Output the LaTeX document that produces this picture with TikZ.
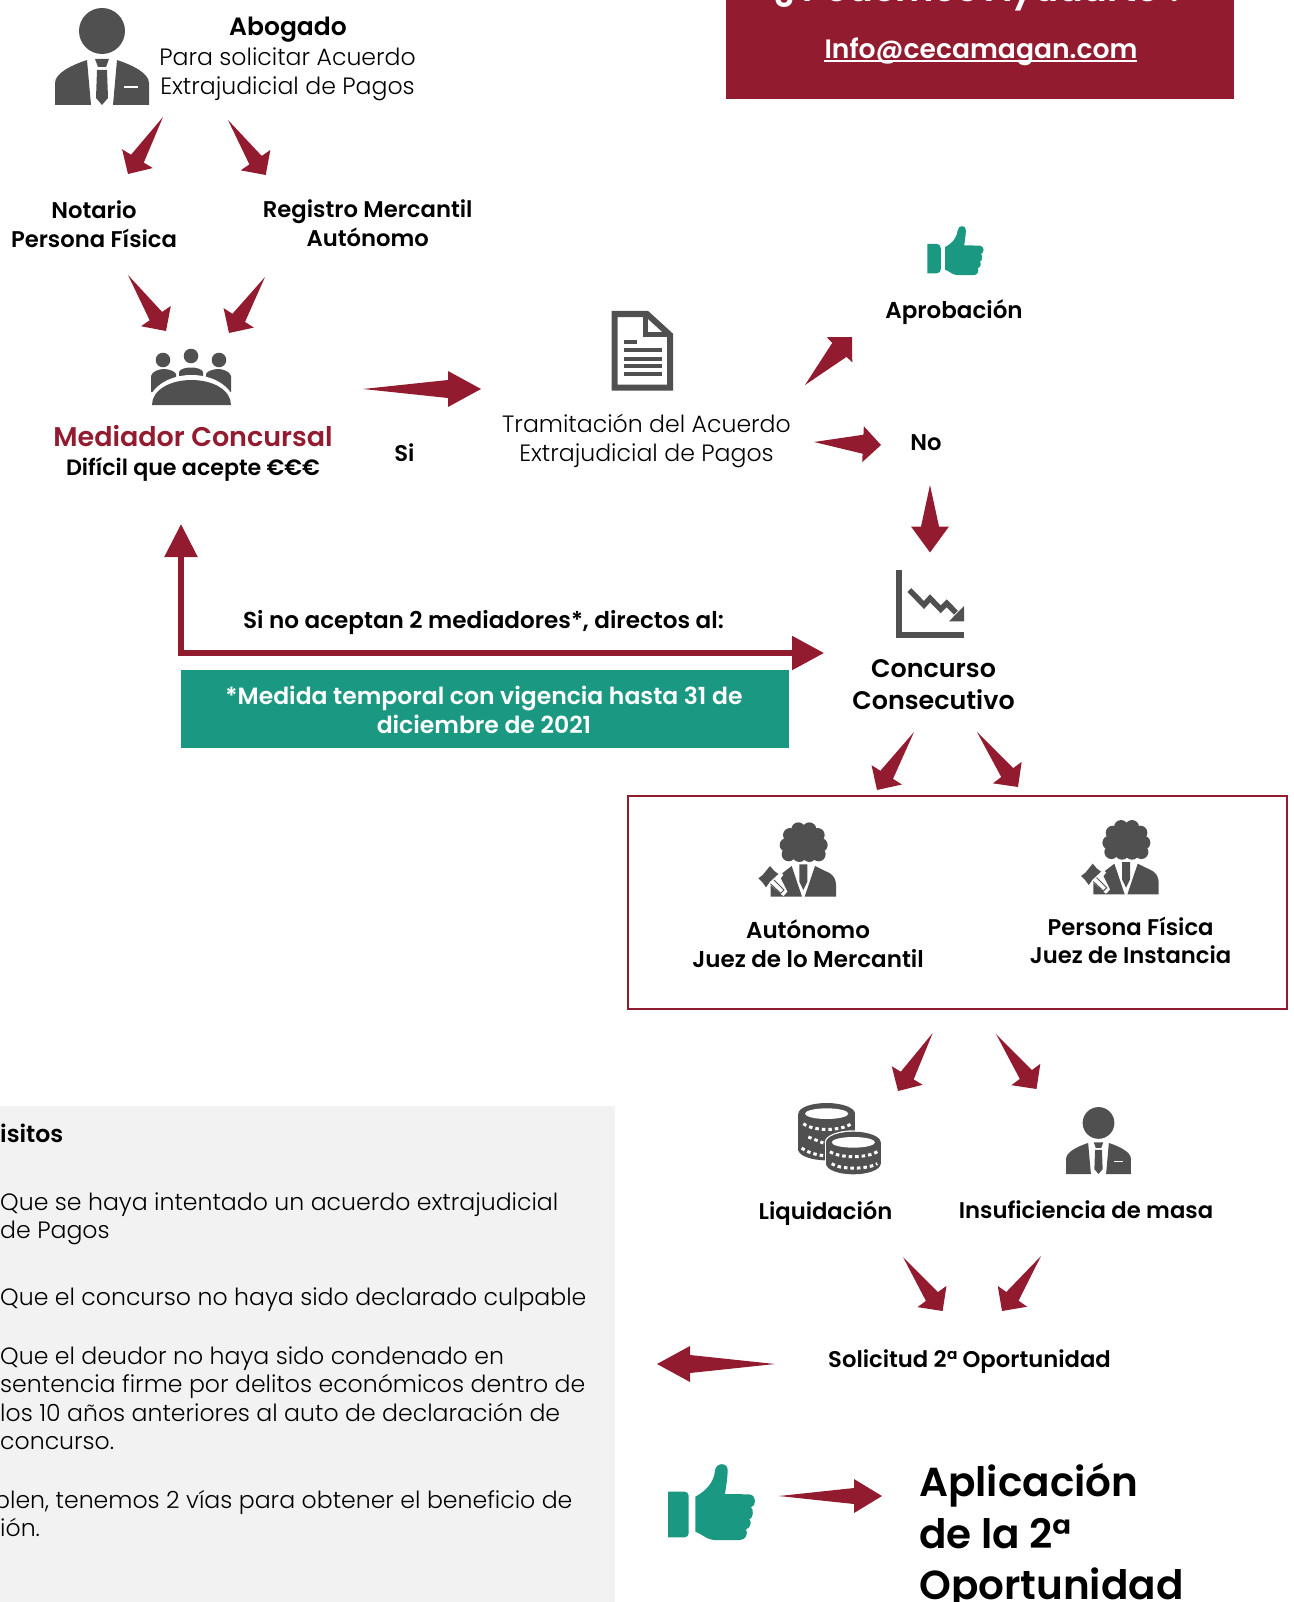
\documentclass[tikz,border=0pt]{standalone}
\usepackage{fontspec}
\setmainfont{Poppins Light}[BoldFont={Poppins SemiBold}]
\usetikzlibrary{calc, arrows.meta}
\definecolor{crimson}{RGB}{147,27,47}
\definecolor{teal}{RGB}{27,152,129}
\definecolor{icongrey}{RGB}{80,80,80}
\definecolor{panelgrey}{RGB}{242,242,242}
\tikzset{
	bodytxt/.style={align=center, inner sep=0pt, text=black, font=\fontsize{23.6}{28.5}\selectfont},
	boldtxt/.style={align=center, inner sep=0pt, text=black, font=\fontsize{22.7}{28.5}\bfseries\selectfont},
	paneltxt/.style={anchor=base west, inner sep=0pt, text=black, font=\fontsize{23.6}{28.5}\selectfont},
	whitetxt/.style={align=center, inner sep=0pt, text=white, font=\fontsize{23.5}{28.5}\bfseries\selectfont},
}
\newcommand\blockarrow[5]{\path (#2) coordinate (tip) ($(#2)!#3!(#1)$) coordinate (base);
\fill[crimson] (#1) -- ($(base)!#5!90:(tip)$) -- ($(base)!#4!90:(tip)$) -- (tip) -- ($(base)!#4!-90:(tip)$) -- ($(base)!#5!-90:(tip)$) -- cycle;}
\newcommand\lawyericon[3]{\begin{scope}[shift={(#1,#2)},scale=#3]
\fill[icongrey] (0,-74) circle (23);
\fill[icongrey] (-47,0) -- (-47,-22) .. controls (-47,-32) and (-30,-40) .. (-15,-45) -- (-11,0) -- cycle;
\fill[icongrey] (47,0) -- (47,-22) .. controls (47,-32) and (30,-40) .. (15,-45) -- (11,0) -- cycle;
\fill[icongrey] (-7,-46) -- (7,-46) -- (4,-38) -- (-4,-38) -- cycle;
\fill[icongrey] (-5,-35) -- (5,-35) -- (6,-7) -- (0,0) -- (-6,-7) -- cycle;
\fill[white] (22,-19) rectangle (36,-17);
\end{scope}}
\newcommand\thumbicon[3]{\begin{scope}[shift={(#1,#2)},scale=#3]
\fill[teal] (54,125) [rounded corners=4] -- (116,125) -- (116,262) [sharp corners] -- (54,262) -- cycle;
\fill[teal] (136,140) .. controls (170,122) and (192,95) .. (195,62) .. controls (197,36) and (235,36) .. (233,62)
 .. controls (232,90) and (228,110) .. (225,132) -- (298,133) .. controls (320,135) and (320,168) .. (303,172)
 .. controls (312,178) and (310,205) .. (298,208) .. controls (306,214) and (302,235) .. (288,238)
 .. controls (295,250) and (288,270) .. (270,270) -- (190,270) .. controls (170,268) and (155,252) .. (136,245) -- cycle;
\end{scope}}
\newcommand\judgeicon[2]{\begin{scope}[shift={(#1,#2)},scale=0.3333]
\fill[icongrey] (160,95) ellipse [x radius=55, y radius=50];
\foreach \wx/\wy in {145/58,178/58,120/75,203/75,110/105,212/105,116/133,206/133,148/135,178/135}
	\fill[icongrey] (\wx,\wy) circle (21);
\fill[icongrey] (62,260) -- (62,225) -- (90,195) -- (125,168) -- (156,260) -- cycle;
\fill[icongrey] (195,168) -- (240,190) .. controls (252,198) and (258,210) .. (258,225) -- (258,260) -- (164,260) -- cycle;
\fill[icongrey] (148,163) -- (172,163) -- (172,215) -- (160,240) -- (148,215) -- cycle;
\fill[white] (30,190) -- (70,160) -- (100,195) -- (92,205) -- (112,245) -- (100,258) -- (62,225) -- (55,240) -- cycle;
\draw[white, line width=5pt, line cap=round] (60,210) -- (100,248);
\draw[icongrey, line width=1pt, line cap=round] (62,222) -- (92,250) -- (102,240) -- (72,210);
\fill[icongrey] (25,205) -- (38,195) -- (60,168) -- (72,182) -- (85,192) -- (60,215) -- (48,232) -- (38,218) -- cycle;
\end{scope}}
\begin{document}
\begin{tikzpicture}[x=1pt, y=-1pt]
\clip (0,0) rectangle (1293,1602);
\useasboundingbox (0,0) rectangle (1293,1602);
% red box
\fill[crimson] (726,-5) rectangle (1234,99);
\node[whitetxt, font=\fontsize{36.5}{38}\bfseries\selectfont, anchor=base] (ayuda) at (981,2) {¿ Podemos Ayudarte ?};
\node[whitetxt, font=\fontsize{26.6}{32}\bfseries\selectfont] (email) at (981,52) {Info@cecamagan.com};
\draw[white, line width=1.6pt] (824,61) -- (1137,61);
% top left
\lawyericon{102}{105}{1}
\node[boldtxt, font=\fontsize{25}{28.5}\bfseries\selectfont] (abogado) at (288,30) {Abogado};
\node[bodytxt] (solicitar) at (287.5,74.5) {Para solicitar Acuerdo\\Extrajudicial de Pagos};
\node[boldtxt] (notario) at (94,224) {Notario\\Persona Física};
\node[boldtxt] (registro) at (367.7,223) {Registro Mercantil\\Autónomo};
\coordinate (abogadoL) at (163,117);
\coordinate (notarioT) at (128,174);
\coordinate (abogadoR) at (228,120);
\coordinate (registroT) at (265.7,175);
\coordinate (notarioB) at (128,275);
\coordinate (mediadorL) at (166,331);
\coordinate (registroB) at (265,277);
\coordinate (mediadorR) at (229,333);
\blockarrow{abogadoL}{notarioT}{18pt}{18pt}{7.5pt}
\blockarrow{abogadoR}{registroT}{18pt}{18pt}{7.5pt}
\blockarrow{notarioB}{mediadorL}{18pt}{18pt}{7.5pt}
\blockarrow{registroB}{mediadorR}{18pt}{18pt}{7.5pt}
% mediator icon
\fill[icongrey] (163,360) circle (7.3);
\fill[icongrey] (191,356) circle (7.3);
\fill[icongrey] (219,360) circle (7.3);
\fill[icongrey] (151,392) -- (151,376) .. controls (152,371) and (160,369) .. (164,369) .. controls (168,369) and (175,371) .. (176,374) -- (176,392) -- cycle;
\fill[icongrey] (231,392) -- (231,376) .. controls (230,371) and (222,369) .. (218,369) .. controls (214,369) and (207,371) .. (206,374) -- (206,392) -- cycle;
\fill[icongrey] (179,385) -- (179,372) .. controls (181,366) and (201,366) .. (203,372) -- (203,385) -- cycle;
\fill[white] (147,410) .. controls (147,388) and (168,375) .. (191.5,375) .. controls (215,375) and (236,388) .. (236,410) -- cycle;
\fill[icongrey] (152,405) .. controls (152,390) and (170,380) .. (191.5,380) .. controls (213,380) and (231,390) .. (231,405) -- cycle;
\node[boldtxt, text=crimson, font=\fontsize{27}{32}\bfseries\selectfont] (mediador) at (193,436) {Mediador Concursal};
\node[boldtxt, font=\fontsize{22.2}{28.5}\bfseries\selectfont] (dificil) at (193,469) {Difícil que acepte €€€};
\node[boldtxt] (si) at (404.4,452.5) {Si};
\coordinate (mediadorE) at (363,389);
\coordinate (tramitacionW) at (481,389);
\blockarrow{mediadorE}{tramitacionW}{33pt}{18pt}{9pt}
% document icon
\draw[icongrey, line width=6pt, miter limit=10] (614.5,314) -- (647,314) -- (670,335) -- (670,387.5) -- (614.5,387.5) -- cycle;
\draw[icongrey, line width=5.5pt] (645.5,316) -- (645.5,334.5) -- (670,334.5);
\foreach \ly/\lx in {342/637,350/662,358.5/662,366/662,374/662}
	\draw[icongrey, line width=4pt] (624,\ly) -- (\lx,\ly);
\node[bodytxt] (tramitacion) at (646.5,441) {Tramitación del Acuerdo\\Extrajudicial de Pagos};
% approval
\thumbicon{915.8}{217}{0.215}
\node[boldtxt, font=\fontsize{23}{28.5}\bfseries\selectfont] (aprobacion) at (954,312.5) {Aprobación};
\node[boldtxt] (no) at (926,443) {No};
\coordinate (tramitacionNE) at (805,385);
\coordinate (aprobacionS) at (852,337);
\coordinate (tramitacionE) at (814,442);
\coordinate (noW) at (881,445);
\coordinate (noS) at (930,485);
\coordinate (concursoN) at (930,552.5);
\blockarrow{tramitacionNE}{aprobacionS}{18pt}{18pt}{10pt}
\blockarrow{tramitacionE}{noW}{18pt}{18pt}{9.5pt}
\blockarrow{noS}{concursoN}{26pt}{19pt}{9pt}
% chart icon
\fill[icongrey] (896,570) rectangle (902,638);
\fill[icongrey] (896,632) rectangle (964,638);
\draw[icongrey, line width=5.5pt, miter limit=10] (909.3,590) -- (924,605) -- (930,598.3) -- (940.7,609.3) -- (946.7,603.3) -- (956,612.7);
\fill[icongrey] (964,606) -- (964,621.3) -- (949,621.3) -- cycle;
\node[boldtxt, font=\fontsize{25.4}{31.5}\bfseries\selectfont] (concurso) at (933.5,684.5) {Concurso\\Consecutivo};
% return line
\coordinate (retornoN) at (181,524);
\coordinate (retornoE) at (824,653);
\draw[crimson, line width=5.5pt, {Triangle[length=33pt,width=32pt]}-{Triangle[length=32pt,width=33pt]}] (retornoN) |- (retornoE);
\node[boldtxt, font=\fontsize{23.1}{28.5}\bfseries\selectfont] (directos) at (483.5,622) {Si no aceptan 2 mediadores*, directos al:};
\node[fill=teal, minimum width=607.5pt, minimum height=77.5pt, inner sep=0pt] (vigenciabox) at (484.8,708.8) {};
\node[whitetxt] (vigencia) at (484,710) {*Medida temporal con vigencia hasta 31 de\\diciembre de 2021};
% judges box
\coordinate (concursoL) at (914,732);
\coordinate (juecesL) at (877,790);
\coordinate (concursoR) at (977,732);
\coordinate (juecesR) at (1018,787);
\blockarrow{concursoL}{juecesL}{18pt}{18pt}{7.5pt}
\blockarrow{concursoR}{juecesR}{18pt}{18pt}{7.5pt}
\node[draw=crimson, line width=2pt, minimum width=659pt, minimum height=213pt, inner sep=0pt] (jueces) at (957,902) {};
\judgeicon{750}{810}
\judgeicon{1072.7}{807.7}
\node[boldtxt, font=\fontsize{23}{28.5}\bfseries\selectfont] (autonomo) at (808,943.7) {Autónomo\\Juez de lo Mercantil};
\node[boldtxt] (fisica) at (1130.6,940.6) {Persona Física\\Juez de Instancia};
\coordinate (juecesBL) at (932.7,1033);
\coordinate (liquidacionN) at (898,1091);
\coordinate (juecesBR) at (996,1034);
\coordinate (insuficienciaN) at (1036.5,1089);
\blockarrow{juecesBL}{liquidacionN}{18pt}{18pt}{7.5pt}
\blockarrow{juecesBR}{insuficienciaN}{18pt}{18pt}{7.5pt}
% coins
\begin{scope}[shift={(790,1093)},scale=0.3333]
\fill[icongrey] (25,62) rectangle (195,130);
\fill[icongrey] (110,62) ellipse [x radius=85, y radius=32];
\fill[icongrey] (110,110) ellipse [x radius=85, y radius=30];
\fill[icongrey] (25,130) rectangle (195,175);
\fill[icongrey] (110,170) ellipse [x radius=85, y radius=32];
\fill[white] (110,62) ellipse [x radius=65, y radius=16];
\draw[white, line width=3pt, dash pattern=on 3.5pt off 3pt] (40,92) .. controls (70,115) and (150,115) .. (185,92);
\draw[white, line width=3pt, dash pattern=on 3.5pt off 3pt] (35,165) .. controls (55,180) and (80,185) .. (100,188);
\draw[white, line width=3pt, dash pattern=on 3.5pt off 3pt] (55,132) -- (100,150);
\fill[white] (190,148) ellipse [x radius=86, y radius=36];
\fill[white] (104,148) rectangle (276,205);
\fill[icongrey] (190,148) ellipse [x radius=82, y radius=32];
\fill[icongrey] (108,148) rectangle (272,212);
\fill[icongrey] (190,212) ellipse [x radius=82, y radius=32];
\fill[white] (190,148) ellipse [x radius=65, y radius=16];
\draw[white, line width=3pt, dash pattern=on 3.5pt off 3pt] (120,176) .. controls (150,196) and (230,196) .. (262,176);
\draw[white, line width=3pt, dash pattern=on 3.5pt off 3pt] (125,212) .. controls (150,230) and (230,230) .. (262,212);
\end{scope}
\lawyericon{1098.5}{1174}{0.69}
\node[boldtxt] (liquidacion) at (825.5,1213.5) {Liquidación};
\node[boldtxt] (insuficiencia) at (1086,1210) {Insuficiencia de masa};
\coordinate (liquidacionS) at (903,1257);
\coordinate (solicitudL) at (942.6,1311);
\coordinate (insuficienciaS) at (1041,1256);
\coordinate (solicitudR) at (1002,1311);
\blockarrow{liquidacionS}{solicitudL}{18pt}{18pt}{7.5pt}
\blockarrow{insuficienciaS}{solicitudR}{18pt}{18pt}{7.5pt}
\node[boldtxt] (solicitud) at (969.5,1362) {Solicitud 2ª Oportunidad};
% requirements panel
\fill[panelgrey] (-5,1106) rectangle (615,1610);
\coordinate (solicitudW) at (775,1364);
\coordinate (panelE) at (657,1364);
\blockarrow{solicitudW}{panelE}{33pt}{18pt}{9pt}
\node[paneltxt, font=\fontsize{23.6}{28.5}\bfseries\selectfont] (requisitos) at (0,1142) {isitos};
\node[paneltxt] (reqa) at (0,1210) {Que se haya intentado un acuerdo extrajudicial};
\node[paneltxt] (reqb) at (0,1238) {de Pagos};
\node[paneltxt] (reqc) at (0,1305) {Que el concurso no haya sido declarado culpable};
\node[paneltxt] (reqd) at (0,1364) {Que el deudor no haya sido condenado en};
\node[paneltxt] (reqe) at (0,1392) {sentencia firme por delitos económicos dentro de};
\node[paneltxt] (reqf) at (0,1421) {los 10 años anteriores al auto de declaración de};
\node[paneltxt] (reqg) at (0,1449) {concurso.};
\node[paneltxt] (vias) at (-6,1508) {plen, tenemos 2 vías para obtener el beneficio de};
\node[paneltxt] (viasb) at (0,1536) {ión.};
% second chance
\thumbicon{650}{1450}{0.3333}
\coordinate (thumbE) at (779,1496);
\coordinate (aplicacionW) at (882,1496);
\blockarrow{thumbE}{aplicacionW}{28pt}{17pt}{8pt}
\node[boldtxt, align=left, anchor=west, font=\fontsize{40.5}{51.5}\bfseries\selectfont] (aplicacion) at (919,1537) {Aplicación\\de la 2ª\\Oportunidad};
\end{tikzpicture}
\end{document}
